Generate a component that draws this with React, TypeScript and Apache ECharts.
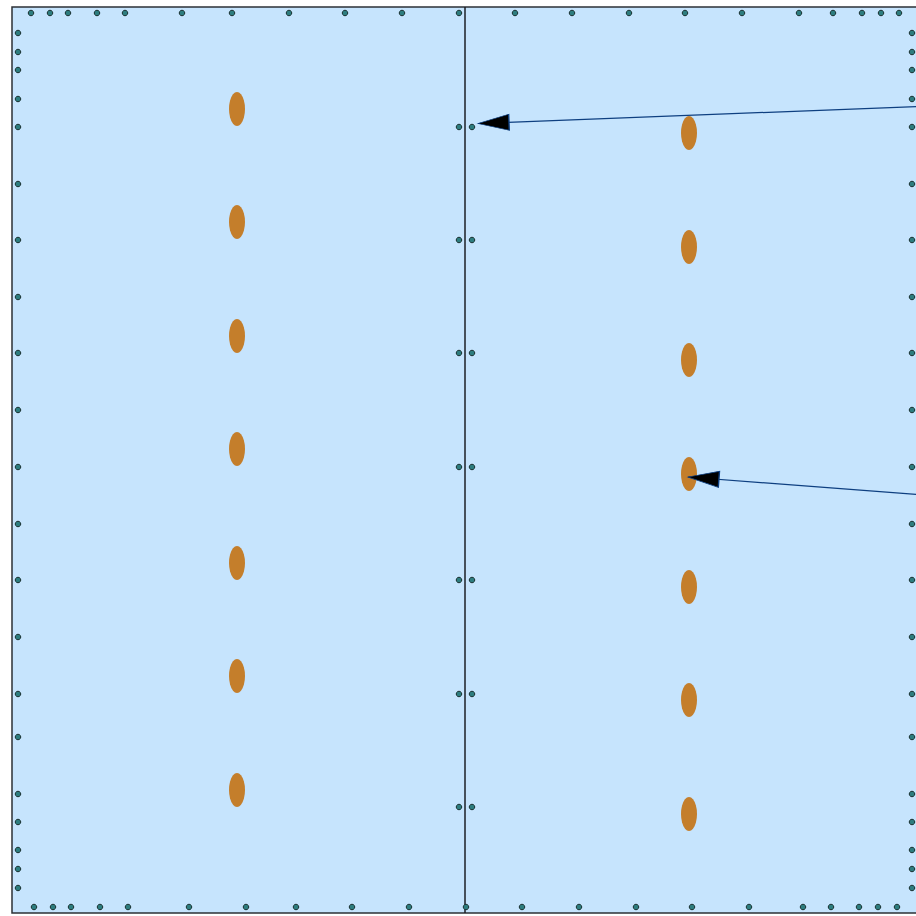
import React, { useEffect, useRef } from "react";
import * as echarts from "echarts";

// Data coordinates (x to the right, y downward)
const topRowX = [19, 38, 56, 85, 113, 170, 220, 277, 333, 390, 447, 503, 560, 617, 673, 730, 787, 821, 850, 869, 887];
const topRowY = 6;
const bottomRowX = [22, 41, 59, 88, 116, 177, 234, 284, 340, 397, 454, 510, 567, 624, 680, 737, 791, 819, 847, 866, 885];
const bottomRowY = 900;
const sideColY = [26, 45, 63, 92, 120, 177, 233, 290, 346, 403, 460, 517, 573, 630, 687, 730, 787, 815, 843, 862, 881];
const leftColX = 6;
const rightColX = 900;
const midColX = [447, 460];
const midColY = [120, 233, 346, 460, 573, 687, 800];
const leftPileX = 225;
const leftPileY = [102, 215, 329, 442, 556, 669, 783];
const rightPileX = 677;
const rightPileY = [126, 240, 353, 467, 580, 693, 807];
const dividerX = 453;
const arrowStarts = [[906, 99.5], [906, 487.5]];
const arrowTips = [[466, 116.5], [676, 470]];

const X_MAX = 914;
const Y_MAX = 906;
const HEAD_LEN = 31;
const HEAD_W = 16;

export default function App() {
  const ref = useRef<HTMLDivElement>(null);
  useEffect(() => {
    const chart = echarts.init(ref.current!, null, { renderer: "svg" });
    const dots: number[][] = [];
    topRowX.forEach((x) => dots.push([x, topRowY]));
    bottomRowX.forEach((x) => dots.push([x, bottomRowY]));
    sideColY.forEach((y) => dots.push([leftColX, y]));
    sideColY.forEach((y) => dots.push([rightColX, y]));
    midColX.forEach((x) => midColY.forEach((y) => dots.push([x, y])));
    const piles: number[][] = [];
    leftPileY.forEach((y) => piles.push([leftPileX, y]));
    rightPileY.forEach((y) => piles.push([rightPileX, y]));

    const heads = arrowTips.map((tip, i) => {
      const s = arrowStarts[i];
      const dx = s[0] - tip[0];
      const dy = s[1] - tip[1];
      const len = Math.sqrt(dx * dx + dy * dy);
      const cx = tip[0] + (dx / len) * (HEAD_LEN / 2);
      const cy = tip[1] + (dy / len) * (HEAD_LEN / 2);
      const px = -dx;
      const py = -dy;
      const theta = (Math.atan2(px, -py) * 180) / Math.PI; // clockwise from up
      return { value: [cx, cy], symbolRotate: -theta };
    });

    chart.setOption({
      animation: false,
      grid: {
        left: 12,
        top: 7,
        right: -10,
        bottom: 3,
        outerBoundsMode: "none",
        containLabel: false,
        show: true,
        backgroundColor: "#c6e4fd",
        borderColor: "#2c3036",
        borderWidth: 1.5,
      },
      xAxis: { type: "value", min: 0, max: X_MAX, show: false },
      yAxis: { type: "value", min: 0, max: Y_MAX, inverse: true, show: false },
      series: [
        {
          type: "lines",
          coordinateSystem: "cartesian2d",
          silent: true,
          lineStyle: { color: "#1b1f24", width: 1.5, opacity: 1 },
          data: [{ coords: [[dividerX, 0], [dividerX, Y_MAX]] }],
        },
        {
          type: "scatter",
          symbol: "circle",
          symbolSize: [16, 34],
          itemStyle: { color: "#c47e2b", opacity: 1 },
          data: piles,
          z: 3,
        },
        {
          type: "scatter",
          symbol: "circle",
          symbolSize: 5.5,
          itemStyle: { color: "#2d7d7f", borderColor: "#1a3030", borderWidth: 1, opacity: 1 },
          data: dots,
          z: 4,
        },
        {
          type: "lines",
          coordinateSystem: "cartesian2d",
          silent: true,
          lineStyle: { color: "#0e3f80", width: 1.2, opacity: 1 },
          data: arrowStarts.map((s, i) => ({ coords: [s, arrowTips[i]] })),
          z: 5,
        },
        {
          type: "scatter",
          symbol: "triangle",
          symbolSize: [HEAD_W, HEAD_LEN],
          itemStyle: { color: "#000000", borderColor: "#0e3f80", borderWidth: 1, opacity: 1 },
          data: heads,
          z: 6,
        },
      ],
    });
    return () => chart.dispose();
  }, []);
  return <div ref={ref} style={{ width: 916, height: 916, position: "absolute", left: 0, top: 0 }} />;
}
